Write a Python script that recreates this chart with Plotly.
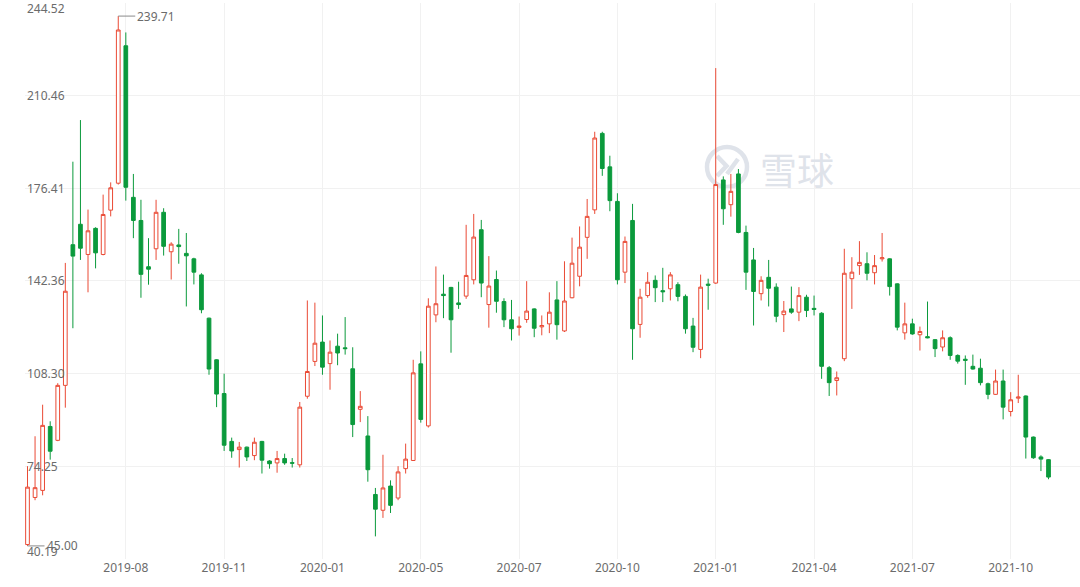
import plotly.graph_objects as go

# ---------------- data (weekly candles) ----------------
opens = [45.5, 62.8, 65.4, 88.9, 83.8, 104.0, 155.7, 163.2, 152.1, 161.7,
         152.1, 168.4, 178.3, 228.8, 173.1, 164.6, 147.6, 154.2, 167.6, 153.1,
         155.6, 152.5, 150.5, 144.6, 128.7, 113.4, 101.0, 83.4, 80.4, 81.3,
         78.2, 83.4, 76.2, 75.5, 77.1, 75.6, 74.8, 100.0, 112.8, 119.9,
         112.0, 118.4, 117.8, 110.1, 95.2, 85.4, 63.9, 58.1, 67.0, 62.6,
         73.4, 76.4, 111.9, 89.1, 129.9, 137.5, 140.0, 134.3, 136.8, 142.8,
         161.2, 133.7, 142.9, 134.8, 128.1, 125.3, 128.2, 132.1, 125.5, 126.6,
         135.4, 124.0, 136.2, 144.1, 158.4, 168.5, 196.6, 184.3, 171.6, 145.6,
         164.6, 126.4, 137.0, 142.6, 138.8, 139.5, 141.0, 136.7, 125.8, 117.2,
         141.2, 141.6, 179.5, 170.4, 181.7, 160.2, 150.1, 137.7, 143.7, 140.1,
         130.0, 132.1, 130.9, 136.4, 132.3, 130.5, 110.5, 105.8, 113.8, 143.2,
         148.0, 148.7, 145.4, 150.5, 150.5, 141.3, 123.3, 126.6, 122.6, 121.9,
         120.8, 118.1, 121.5, 115.0, 113.6, 111.0, 110.3, 104.6, 100.7, 105.6,
         94.4, 99.3, 100.1, 85.0, 77.7, 76.7]
highs = [74.3, 85.3, 96.9, 90.8, 104.8, 149.0, 186.2, 201.5, 168.6, 162.1,
         174.1, 178.6, 239.71, 233.7, 181.7, 172.2, 158.1, 172.2, 169.1, 156.6,
         161.5, 160.0, 150.9, 145.2, 128.9, 113.6, 108.3, 84.8, 83.2, 81.5,
         84.8, 83.6, 76.5, 79.9, 78.9, 77.3, 97.9, 135.2, 134.4, 129.7,
         120.5, 123.0, 129.1, 118.0, 101.9, 92.7, 66.3, 78.5, 69.1, 74.3,
         82.6, 113.4, 116.5, 136.0, 147.7, 144.7, 140.2, 142.1, 163.0, 167.0,
         164.8, 151.5, 146.2, 136.0, 135.4, 129.3, 142.3, 132.3, 129.7, 138.2,
         142.3, 149.6, 158.3, 162.4, 172.5, 197.2, 197.2, 188.4, 174.6, 158.7,
         170.7, 139.5, 145.6, 144.4, 147.2, 145.6, 141.9, 137.4, 128.8, 144.7,
         143.2, 220.6, 180.8, 181.7, 183.5, 162.7, 154.5, 144.1, 150.1, 141.5,
         135.0, 140.3, 140.1, 137.3, 137.0, 130.9, 111.1, 109.1, 154.2, 151.1,
         157.0, 152.9, 151.9, 160.0, 150.7, 141.5, 134.4, 128.5, 125.6, 134.8,
         121.0, 124.2, 122.0, 115.4, 115.0, 115.3, 113.8, 105.0, 109.8, 109.8,
         101.5, 107.9, 100.3, 85.2, 78.3, 76.9]
lows = [45.0, 61.8, 63.6, 76.7, 83.5, 95.8, 125.0, 150.1, 138.2, 147.0,
        151.8, 166.1, 177.8, 171.9, 158.1, 136.2, 141.0, 150.1, 151.7, 142.9,
        148.7, 133.0, 141.1, 130.5, 107.9, 96.0, 79.9, 77.4, 73.8, 76.2,
        76.5, 71.6, 73.4, 71.9, 74.8, 73.8, 73.8, 99.1, 111.1, 107.9,
        102.4, 111.4, 115.3, 85.0, 90.5, 68.6, 48.5, 55.3, 57.1, 61.8,
        71.6, 76.2, 90.3, 88.5, 127.2, 128.7, 116.0, 132.1, 135.8, 141.1,
        136.4, 125.2, 130.7, 125.4, 120.5, 122.3, 127.0, 121.7, 122.4, 123.2,
        120.8, 123.6, 136.0, 140.4, 150.5, 167.0, 181.0, 168.0, 141.1, 141.6,
        113.4, 121.5, 136.2, 134.6, 134.6, 135.2, 134.9, 123.0, 116.2, 114.0,
        131.8, 141.3, 163.0, 166.0, 159.9, 139.1, 126.0, 135.2, 133.0, 127.2,
        123.6, 130.3, 127.6, 129.1, 129.7, 106.4, 100.1, 100.3, 112.9, 132.1,
        144.6, 142.6, 141.1, 149.5, 137.0, 124.2, 120.8, 122.6, 116.8, 121.3,
        114.4, 116.5, 113.4, 112.0, 104.2, 109.8, 104.0, 98.9, 100.5, 91.5,
        92.6, 97.5, 77.1, 77.0, 72.5, 69.5]
closes = [66.6, 66.4, 89.3, 79.8, 104.0, 138.6, 151.5, 154.4, 160.8, 152.7,
          166.8, 176.6, 234.6, 176.8, 164.6, 144.8, 146.7, 167.6, 155.1, 155.9,
          155.0, 151.6, 145.6, 131.8, 110.0, 100.8, 82.0, 79.9, 81.3, 77.7,
          83.1, 76.5, 75.2, 77.1, 75.5, 75.4, 96.0, 109.1, 119.5, 110.7,
          116.2, 115.9, 117.5, 89.6, 96.3, 73.0, 58.5, 66.3, 59.9, 72.2,
          76.9, 108.6, 91.5, 133.1, 134.0, 137.0, 128.1, 133.7, 144.4, 158.5,
          141.6, 140.5, 134.9, 128.1, 124.8, 125.8, 131.3, 125.0, 126.0, 130.9,
          126.3, 135.0, 148.9, 154.8, 166.1, 194.9, 183.7, 171.9, 142.8, 156.9,
          124.8, 136.4, 141.9, 139.9, 138.4, 144.6, 136.7, 124.8, 118.0, 140.1,
          140.8, 177.8, 168.9, 175.3, 160.2, 145.6, 138.5, 142.6, 139.7, 129.4,
          131.3, 130.9, 137.0, 131.5, 131.9, 111.0, 105.0, 106.8, 145.2, 145.6,
          149.2, 145.2, 148.0, 150.9, 140.3, 125.4, 126.6, 122.9, 123.8, 121.5,
          117.5, 121.5, 115.0, 112.9, 113.2, 110.0, 105.0, 100.7, 105.6, 96.0,
          98.7, 99.7, 85.0, 77.4, 76.9, 70.3]

x_tick_labels = ["2019-08", "2019-11", "2020-01", "2020-05", "2020-07",
                 "2020-10", "2021-01", "2021-04", "2021-07", "2021-10"]
y_tick_values = [40.19, 74.25, 108.30, 142.36, 176.41, 210.46, 244.52]
watermark_text = "雪球"

# ---------------- layout constants ----------------
W, H = 1080, 587
ML, MR, MT, MB = 25, 0, 3, 28
RED = "#ea4a35"
GREEN = "#0b9a3c"
GRID = "#f1f1f1"
TXT = "#6b6b6b"
FONT = "Noto Sans"
WM = "#dfe3ea"
STEP_PX = 7.563          # pixel distance between candles
FIRST_PX = 27.5          # pixel x of the first candle

N = len(opens)
xs = list(range(N))
label_every = 13
tickvals = [label_every * (i + 1) for i in range(len(x_tick_labels))]

fig = go.Figure(go.Candlestick(
    x=xs, open=opens, high=highs, low=lows, close=closes,
    increasing=dict(line=dict(color=RED, width=1), fillcolor="white"),
    decreasing=dict(line=dict(color=GREEN, width=1), fillcolor=GREEN),
    whiskerwidth=0, hoverinfo="skip", showlegend=False,
))

plot_w = W - ML - MR
plot_h = H - MT - MB


def px2paper(px, py):
    return (px - ML) / plot_w, (H - MB - py) / plot_h


# watermark logo (circle + glyph), below the candles
cx0, cy0 = px2paper(707, 187)
cx1, cy1 = px2paper(747, 147)
shapes = [dict(type="circle", xref="paper", yref="paper", x0=cx0, y0=cy0, x1=cx1, y1=cy1,
               line=dict(color=WM, width=4.5), layer="below")]
pts = [(717, 156), (726.5, 166), (717, 176)]
path = "M " + " L ".join("%f,%f" % px2paper(*p) for p in pts)
shapes.append(dict(type="path", xref="paper", yref="paper", path=path,
                   line=dict(color=WM, width=4.5), layer="below"))
p1 = px2paper(727, 174)
p2 = px2paper(738, 159)
shapes.append(dict(type="line", xref="paper", yref="paper", x0=p1[0], y0=p1[1], x1=p2[0], y1=p2[1],
                   line=dict(color=WM, width=4.5), layer="below"))

annotations = []
# y tick labels drawn inside the plot on the left
ymin, ymax = min(y_tick_values), max(y_tick_values)
for v in y_tick_values:
    if v == ymax:
        anchor, shift = "top", 5
    elif v == ymin:
        anchor, shift = "bottom", -3
    else:
        anchor, shift = "middle", 0
    annotations.append(dict(x=0, xref="paper", y=v, yref="y", text=f"{v:.2f}",
                            xanchor="left", yanchor=anchor, yshift=shift, showarrow=False,
                            font=dict(family=FONT, size=12, color=TXT)))

# max / min markers
i_max = highs.index(max(highs))
i_min = lows.index(min(lows))
for i, val in ((i_max, highs[i_max]), (i_min, lows[i_min])):
    annotations.append(dict(x=i, y=val, xref="x", yref="y", text=f"{val:.2f}",
                            showarrow=True, arrowhead=0, arrowwidth=1, arrowcolor="#8a8a8a",
                            ax=17, ay=0, xanchor="left", yanchor="middle",
                            font=dict(family=FONT, size=12, color=TXT)))

# watermark text
tx, ty = px2paper(797, 169)
annotations.append(dict(x=tx, y=ty, xref="paper", yref="paper", text=watermark_text,
                        showarrow=False, xanchor="center", yanchor="middle",
                        font=dict(family="Noto Sans CJK SC", size=37, color=WM)))

x_lo = (ML - FIRST_PX) / STEP_PX
x_hi = (W - MR - FIRST_PX) / STEP_PX

fig.update_layout(
    width=W, height=H,
    margin=dict(l=ML, r=MR, t=MT, b=MB, autoexpand=False),
    paper_bgcolor="white", plot_bgcolor="white",
    shapes=shapes, annotations=annotations,
    xaxis=dict(range=[x_lo, x_hi], rangeslider=dict(visible=False), automargin=False,
               tickmode="array", tickvals=tickvals, ticktext=x_tick_labels,
               showgrid=True, gridcolor=GRID, gridwidth=1, zeroline=False,
               showline=False, ticks="",
               tickfont=dict(family=FONT, size=12, color=TXT)),
    yaxis=dict(range=[ymin, ymax], tickmode="array", tickvals=y_tick_values, automargin=False,
               showticklabels=False, showgrid=True, gridcolor=GRID, gridwidth=1,
               zeroline=False, showline=False, ticks=""),
)

fig.write_html("out.html",
               config={"displayModeBar": False, "staticPlot": True},
               post_script="document.body.style.margin='0';document.body.style.padding='0';"
                           "document.body.style.overflow='hidden';")
